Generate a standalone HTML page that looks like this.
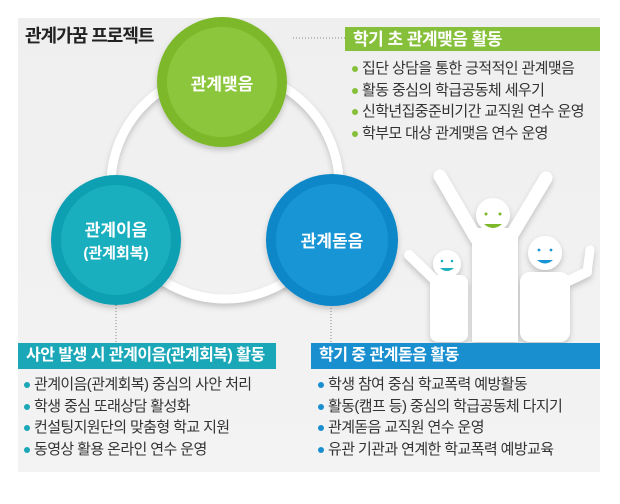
<!DOCTYPE html>
<html><head><meta charset="utf-8"><style>
body{margin:0;width:620px;height:504px;background:#fff;position:relative;overflow:hidden;font-family:"Liberation Sans","Noto Sans CJK KR",sans-serif}
.a{position:absolute}
.hd{position:absolute;color:#fff;font-weight:bold;font-size:16px;line-height:25px;padding-left:8px;box-sizing:border-box;letter-spacing:-0.5px}
.ul{position:absolute;font-size:15px;color:#333;line-height:21.5px;letter-spacing:-0.6px}
.ul div:before{content:"";display:inline-block;width:6px;height:6px;border-radius:50%;margin-right:4px;vertical-align:middle;background:var(--c)}
</style></head><body>
<div class="a" style="left:18px;top:18px;width:582px;height:454px;background:linear-gradient(#efefef,#f3f3f3)"></div>
<svg class="a" style="left:0;top:0" width="620" height="504">
<defs><filter id="s" x="-20%" y="-20%" width="140%" height="140%"><feDropShadow dx="0" dy="3" stdDeviation="3" flood-opacity="0.2"/></filter></defs>
<circle cx="225" cy="185" r="114" fill="none" stroke="#fff" stroke-width="9" filter="url(#s)"/>
<line x1="293" y1="38" x2="345" y2="38" stroke="#888" stroke-dasharray="1,2"/>
<line x1="116" y1="305" x2="116" y2="343" stroke="#888" stroke-dasharray="1,2"/>
<line x1="331" y1="305" x2="331" y2="343" stroke="#888" stroke-dasharray="1,2"/>
<circle cx="222" cy="82" r="65" fill="#7cb82a" filter="url(#s)"/><circle cx="222" cy="82" r="55" fill="#8cc63c"/>
<circle cx="116" cy="240" r="65" fill="#0f9fb2" filter="url(#s)"/><circle cx="116" cy="240" r="55" fill="#1aafbf"/>
<circle cx="332" cy="240" r="66" fill="#0c87c8" filter="url(#s)"/><circle cx="332" cy="240" r="56" fill="#1895d5"/>
<text x="222" y="90" fill="#fff" font-size="17" font-weight="bold" text-anchor="middle">관계맺음</text>
<text x="116" y="236" fill="#fff" font-size="17" font-weight="bold" text-anchor="middle">관계이음</text>
<text x="116" y="258" fill="#fff" font-size="15" font-weight="bold" text-anchor="middle">(관계회복)</text>
<text x="332" y="247" fill="#fff" font-size="17" font-weight="bold" text-anchor="middle">관계돋음</text>
<g fill="#fff" stroke="#fff" filter="url(#s)">
<line x1="476" y1="238" x2="440" y2="176" stroke-width="13" stroke-linecap="round"/>
<line x1="510" y1="238" x2="546" y2="178" stroke-width="13" stroke-linecap="round"/>
<rect x="472" y="228" width="46" height="114" stroke="none"/>
<circle cx="493" cy="215" r="17" stroke="none"/>
<line x1="440" y1="285" x2="409" y2="255" stroke-width="10" stroke-linecap="round"/>
<rect x="430" y="275" width="38" height="67" rx="8" stroke="none"/>
<circle cx="447" cy="264" r="14" stroke="none"/>
<line x1="560" y1="285" x2="587" y2="272" stroke-width="10" stroke-linecap="round"/>
<line x1="587" y1="272" x2="590" y2="250" stroke-width="9" stroke-linecap="round"/>
<rect x="520" y="272" width="50" height="70" rx="10" stroke="none"/>
<circle cx="545" cy="253" r="17" stroke="none"/>
</g>
<path d="M484 224 q9 8 18 0z" fill="#7cb82a"/><circle cx="486" cy="214" r="1.5" fill="#7cb82a"/><circle cx="500" cy="214" r="1.5" fill="#7cb82a"/>
<path d="M440 268 q7 6 14 0z" fill="#1aafbf"/><circle cx="442" cy="261" r="1.3" fill="#1aafbf"/><circle cx="452" cy="261" r="1.3" fill="#1aafbf"/>
<path d="M537 260 q8 7 16 0z" fill="#1895d5"/><circle cx="539" cy="250" r="1.4" fill="#1895d5"/><circle cx="551" cy="250" r="1.4" fill="#1895d5"/>
</svg>
<div class="a" style="left:25px;top:22px;font-size:18px;font-weight:bold;color:#222;letter-spacing:-1px">관계가꿈 프로젝트</div>
<div class="hd" style="left:345px;top:27px;width:255px;height:24px;background:#86c03a;font-size:17px">학기 초 관계맺음 활동</div>
<div class="ul" style="left:352px;top:58px;--c:#86c03a"><div>집단 상담을 통한 긍적적인 관계맺음</div><div>활동 중심의 학급공동체 세우기</div><div>신학년집중준비기간 교직원 연수 운영</div><div>학부모 대상 관계맺음 연수 운영</div></div>
<div class="hd" style="left:18px;top:343px;width:258px;height:26px;background:#1aa7b8">사안 발생 시 관계이음(관계회복) 활동</div>
<div class="hd" style="left:311px;top:343px;width:289px;height:26px;background:#1a8fd0">학기 중 관계돋음 활동</div>
<div class="ul" style="left:24px;top:374px;--c:#1aa7b8"><div>관계이음(관계회복) 중심의 사안 처리</div><div>학생 중심 또래상담 활성화</div><div>컨설팅지원단의 맞춤형 학교 지원</div><div>동영상 활용 온라인 연수 운영</div></div>
<div class="ul" style="left:318px;top:374px;--c:#1a8fd0"><div>학생 참여 중심 학교폭력 예방활동</div><div>활동(캠프 등) 중심의 학급공동체 다지기</div><div>관계돋음 교직원 연수 운영</div><div>유관 기관과 연계한 학교폭력 예방교육</div></div>
</body></html>
